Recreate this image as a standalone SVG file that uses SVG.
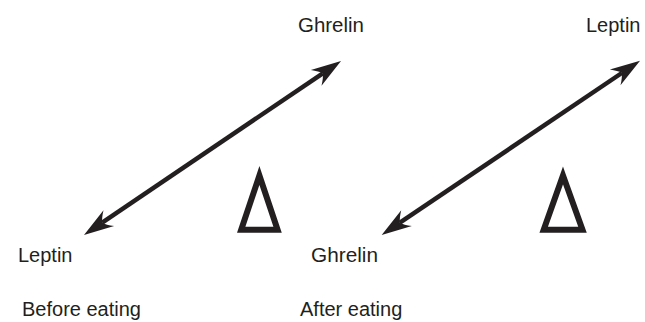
<svg xmlns="http://www.w3.org/2000/svg" width="645" height="322" viewBox="0 0 645 322">
<defs>
<marker id="head" markerUnits="userSpaceOnUse" orient="auto-start-reverse" refX="0" refY="0" markerWidth="40" markerHeight="30" overflow="visible">
<path d="M22,0 L-8,-9.5 Q-2,-4 0,0 Q-2,4 -8,9.5 Z" fill="#231f20"/>
</marker>
</defs>
<style>
.lbl{font-family:"Liberation Sans",Arial,sans-serif;font-size:20px;fill:#231f20}
.arr{stroke:#231f20;stroke-width:4.5;fill:none;marker-start:url(#head);marker-end:url(#head)}
.tri{stroke:#231f20;stroke-width:6;fill:none;stroke-linejoin:miter;stroke-miterlimit:6}
</style>
<rect width="645" height="322" fill="#ffffff"/>
<g id="connectors">
<line class="arr" x1="102.2" y1="222.7" x2="322.8" y2="73.3"/>
<line class="arr" x1="399.9" y1="222.7" x2="621.8" y2="73"/>
</g>
<g id="before-ghrelin"><text class="lbl" x="298" y="32" textLength="66" lengthAdjust="spacingAndGlyphs">Ghrelin</text></g>
<g id="before-leptin"><text class="lbl" x="18" y="262">Leptin</text></g>
<g id="before-delta"><path class="tri" d="M259.4,175.5 L277.6,229.7 L241.2,229.7 Z"/></g>
<g id="before-label"><text class="lbl" x="22" y="316">Before eating</text></g>
<g id="after-leptin"><text class="lbl" x="586" y="32">Leptin</text></g>
<g id="after-ghrelin"><text class="lbl" x="311" y="262" textLength="67" lengthAdjust="spacingAndGlyphs">Ghrelin</text></g>
<g id="after-delta"><path class="tri" d="M563,175.5 L582.5,229.7 L543.7,229.7 Z"/></g>
<g id="after-label"><text class="lbl" x="300" y="316">After eating</text></g>
</svg>
